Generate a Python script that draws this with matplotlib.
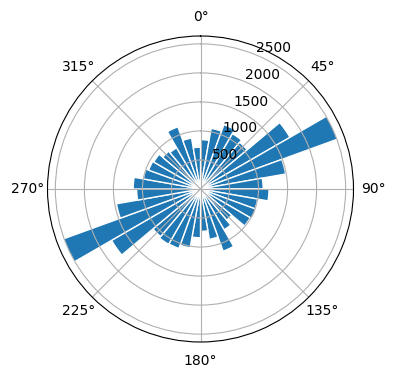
import numpy as np
import matplotlib
matplotlib.use("Agg")
import matplotlib.pyplot as plt

# =========================
# DATA (counts per 10-degree direction bin, clockwise from north)
# =========================
bin_start_deg = np.arange(0, 360, 10)
counts = [850, 1060, 1180, 1100, 1050, 1780, 2510, 1490, 1080,
          1180, 1000, 1020, 990, 700, 810, 1140, 880, 730,
          840, 1030, 1090, 1100, 1070, 1770, 2510, 1470, 1100,
          1160, 1000, 950, 930, 850, 820, 1140, 890, 720]

# =========================
# PLOT
# =========================
fig = plt.figure(figsize=(3.96, 3.8), dpi=100)
ax = fig.add_axes([47.5 / 396, 38 / 380, 306 / 396, 306 / 380], projection='polar')
ax.set_theta_zero_location('N')
ax.set_theta_direction(-1)

theta = np.deg2rad(bin_start_deg)
ax.bar(theta, counts, width=np.deg2rad(10), align='edge',
       color='#1f77b4', edgecolor='white', linewidth=1)

ax.set_rticks([500, 1000, 1500, 2000, 2500])
ax.grid(True)

fig.savefig('out.png', dpi=100)
